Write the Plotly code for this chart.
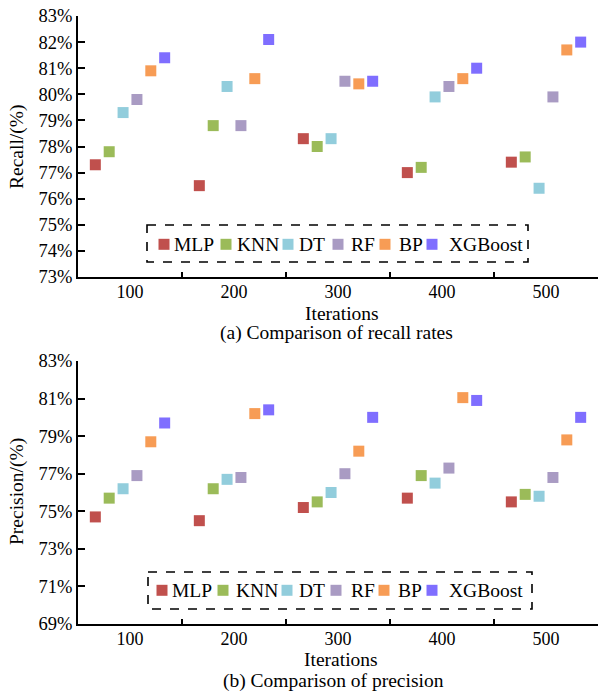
import plotly.graph_objects as go
from plotly.subplots import make_subplots

iterations = ["100", "200", "300", "400", "500"]
models = ["MLP", "KNN", "DT", "RF", "BP", "XGBoost"]
colors = ["#C0504D", "#9BBB59", "#92CDDC", "#A99BC3", "#F79C55", "#7F6EFF"]

recall_mlp = [77.3, 76.5, 78.3, 77.0, 77.4]
recall_knn = [77.8, 78.8, 78.0, 77.2, 77.6]
recall_dt = [79.3, 80.3, 78.3, 79.9, 76.4]
recall_rf = [79.8, 78.8, 80.5, 80.3, 79.9]
recall_bp = [80.9, 80.6, 80.4, 80.6, 81.7]
recall_xgb = [81.4, 82.1, 80.5, 81.0, 82.0]

prec_mlp = [74.7, 74.5, 75.2, 75.7, 75.5]
prec_knn = [75.7, 76.2, 75.5, 76.9, 75.9]
prec_dt = [76.2, 76.7, 76.0, 76.5, 75.8]
prec_rf = [76.9, 76.8, 77.0, 77.3, 76.8]
prec_bp = [78.7, 80.2, 78.2, 81.05, 78.8]
prec_xgb = [79.7, 80.4, 80.0, 80.9, 80.0]

recall = [recall_mlp, recall_knn, recall_dt, recall_rf, recall_bp, recall_xgb]
precision = [prec_mlp, prec_knn, prec_dt, prec_rf, prec_bp, prec_xgb]

FONT = "Liberation Serif, Times New Roman, serif"
W, H = 598, 692
ML, MR, MT, MB = 78, 0, 16, 68
PW, PH = W - ML - MR, H - MT - MB


def px(x):
    return (x - ML) / PW


def py(y):
    return (H - MB - y) / PH


fig = make_subplots(rows=2, cols=1, vertical_spacing=0.138)

for i, name in enumerate(models):
    fig.add_trace(go.Scatter(x=iterations, y=recall[i], name=name, mode="markers",
                             marker=dict(symbol="square", size=11, color=colors[i]),
                             showlegend=False), row=1, col=1)
    fig.add_trace(go.Scatter(x=iterations, y=precision[i], name=name, mode="markers",
                             marker=dict(symbol="square", size=11, color=colors[i]),
                             showlegend=False), row=2, col=1)

xcommon = dict(type="category", showline=True, linecolor="black", linewidth=2,
               ticks="inside", ticklen=5, tickwidth=2, tickcolor="black",
               tickson="boundaries", showgrid=False, zeroline=False,
               ticklabelstandoff=-3,
               tickfont=dict(family=FONT, size=18, color="black"),
               range=[-0.5, 4.5])
ycommon = dict(showline=True, linecolor="black", linewidth=2, ticks="inside",
               ticklen=7, tickwidth=2, tickcolor="black", showgrid=False,
               zeroline=False, ticksuffix="%",
               tickfont=dict(family=FONT, size=18.5, color="black"))

fig.update_layout(
    width=W, height=H, margin=dict(l=ML, r=MR, t=MT, b=MB),
    plot_bgcolor="white", paper_bgcolor="white",
    scattermode="group", scattergap=0.2,
    xaxis=dict(**xcommon, domain=[0, 1]),
    xaxis2=dict(**xcommon, domain=[0, 1]),
    yaxis=dict(**ycommon, range=[73, 83], tick0=73, dtick=1, domain=[py(277), 1]),
    yaxis2=dict(**ycommon, range=[69, 83], tick0=69, dtick=2, domain=[0, py(361)]),
)

ann = []
ann.append(dict(text="Recall/(%)", x=px(17), y=py(147), textangle=-90))
ann.append(dict(text="Precision/(%)", x=px(17), y=py(492), textangle=-90))
ann.append(dict(text="Iterations", x=px(342), y=py(313)))
ann.append(dict(text="(a) Comparison of recall rates", x=px(336), y=py(333)))
ann.append(dict(text="Iterations", x=px(341), y=py(659)))
ann.append(dict(text="(b) Comparison of precision", x=px(333), y=py(681)))
for a in ann:
    a.update(xref="paper", yref="paper", showarrow=False, xanchor="center",
             yanchor="middle", font=dict(family=FONT, size=19.5, color="black"))
    fig.add_annotation(**a)

legends = [
    dict(box=(147, 225, 528, 262), yc=244.3,
         marks=[164, 226, 288, 338, 385, 432], texts=[172, 235, 297, 349, 397, 447]),
    dict(box=(148, 572, 532, 609), yc=590.3,
         marks=[162, 223, 287, 336, 384, 432], texts=[170, 234, 297, 349, 396, 447]),
]
for lg in legends:
    x0, y0, x1, y1 = lg["box"]
    fig.add_shape(type="rect", xref="paper", yref="paper", x0=px(x0), x1=px(x1),
                  y0=py(y0), y1=py(y1), line=dict(color="black", width=1.6, dash="dash"))
    for i, name in enumerate(models):
        m = lg["marks"][i]
        fig.add_shape(type="rect", xref="paper", yref="paper",
                      x0=px(m - 5.5), x1=px(m + 5.5), y0=py(lg["yc"] - 5.5), y1=py(lg["yc"] + 5.5),
                      line=dict(width=0), fillcolor=colors[i])
        fig.add_annotation(text=name, xref="paper", yref="paper", x=px(lg["texts"][i]),
                           y=py(lg["yc"]), xanchor="left", yanchor="middle", showarrow=False,
                           font=dict(family=FONT, size=19.5, color="black"))

fig.write_html("out.html")
